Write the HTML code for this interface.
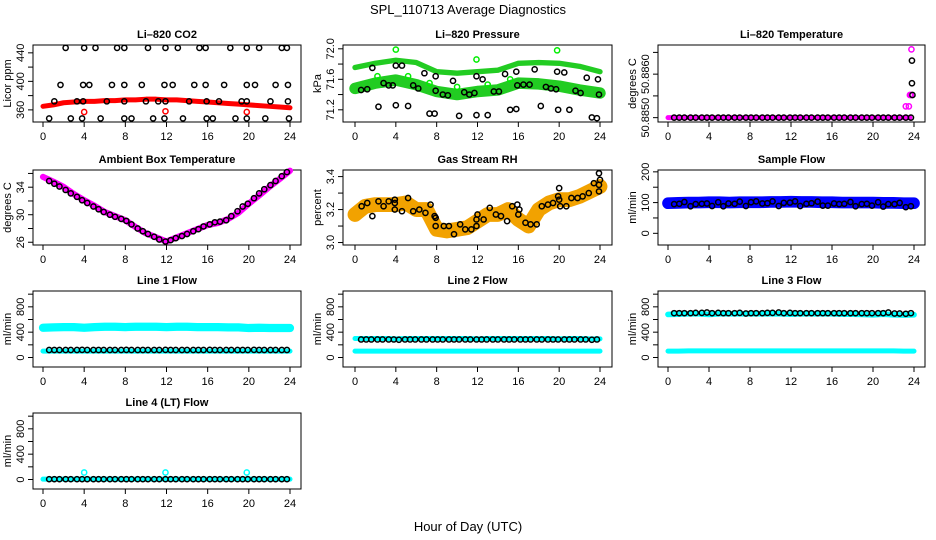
<!DOCTYPE html>
<html><head><meta charset="utf-8"><style>
html,body{margin:0;padding:0;background:#fff;}
svg{display:block;font-family:"Liberation Sans",sans-serif;}
</style></head><body>
<svg id="chart" width="936" height="540" viewBox="0 0 936 540" xmlns="http://www.w3.org/2000/svg">
<rect width="936" height="540" fill="#fff"/>
<text x="468" y="14" font-size="13" text-anchor="middle">SPL_110713  Average Diagnostics</text>
<text x="468" y="531" font-size="13" text-anchor="middle">Hour of Day (UTC)</text>
</svg>
<script>
const bandHours=[0,1,2,3,4,5,6,7,8,9,10,11,12,13,14,15,16,17,18,19,20,21,22,23,24];
const bandHours2=[0,2,4,6,8,10,12,14,16,18,20,22,24];
const blackHours=[0.6,1.1,1.6,2.2,2.7,3.3,3.8,4.3,4.9,5.4,5.9,6.5,7.0,7.6,8.1,8.6,9.2,9.7,10.2,10.8,11.3,11.9,12.4,12.9,13.5,14.0,14.6,15.1,15.6,16.2,16.7,17.2,17.8,18.3,18.9,19.4,19.9,20.5,21.0,21.5,22.1,22.6,23.2,23.7];
const xTicks=[0,4,8,12,16,20,24];
// CO2
const co2Band=[365,367,370,371,372,372,373,373,374,374,375,375,374,374,373,372,371,370,369,368,367,366,365,364,363];
const co2Hours=[2.2,4.0,5.1,7.2,7.9,10.2,11.9,13.1,15.2,15.8,18.2,19.8,21.0,23.2,23.7,1.7,3.9,4.5,6.7,7.9,9.6,11.8,12.6,14.7,15.8,17.6,19.8,20.6,22.6,23.8,1.1,3.3,3.9,6.2,7.9,10.0,11.2,11.9,14.2,15.9,17.1,19.3,19.8,22.1,23.8,0.6,2.7,3.8,5.6,7.9,8.6,10.7,11.8,13.6,15.9,16.5,18.7,19.8,21.6,23.9];
const co2Vals=[447,447,447,447,447,447,447,447,447,447,447,447,447,447,447,395,395,395,395,395,395,395,395,395,395,395,395,395,395,395,372,372,372,372,372,372,372,372,372,372,372,372,372,372,372,348,348,348,348,348,348,348,348,348,348,348,348,348,348,348];
const co2OutHours=[4.0,11.9,19.8];
const co2OutVals=[357,358,357];
// Pressure
const presUpper=[71.755,71.81,71.85,71.82,71.70,71.68,71.70,71.72,71.81,71.82,71.81,71.77,71.70];
const presLower=[71.48,71.55,71.59,71.53,71.44,71.40,71.44,71.46,71.55,71.54,71.51,71.46,71.42];
const presHours=[0.6,1.2,1.7,2.3,2.8,3.3,3.7,4.0,4.0,4.6,5.2,5.7,6.2,6.8,7.3,7.8,7.9,7.9,8.6,9.1,9.6,10.2,10.7,11.2,11.7,11.9,11.9,12.5,13.0,13.6,14.1,14.7,15.2,15.8,15.8,15.9,16.5,17.1,17.6,18.2,18.7,19.2,19.7,19.8,19.9,20.5,21.0,21.6,22.1,22.7,23.2,23.7,23.8,23.9];
const presVals=[71.46,71.47,71.75,71.24,71.55,71.52,71.52,71.78,71.26,71.78,71.25,71.52,71.48,71.68,71.15,71.15,71.64,71.45,71.40,71.39,71.58,71.12,71.43,71.40,71.42,71.64,71.13,71.60,71.13,71.44,71.44,71.67,71.20,71.21,71.70,71.52,71.53,71.53,71.73,71.25,71.50,71.48,71.47,71.70,71.20,71.69,71.20,71.45,71.42,71.62,71.10,71.09,71.60,71.40];
const presOutHours=[4.0,11.9,19.8,15.2,7.3,10.0,13.0,2.2,5.2];
const presOutVals=[71.99,71.86,71.98,71.60,71.55,71.50,71.53,71.64,71.64];
// Li-820 temperature
const tempBandHours=[0,23.6];
const tempBand=[50.885,50.885];
const tempOutHours=[23.2,23.5,23.6,23.7,23.75];
const tempOutVals=[50.88526,50.88526,50.88552,50.88552,50.88657];
const tempBlackVals=[50.885,50.885,50.885,50.885,50.885,50.885,50.885,50.885,50.885,50.885,50.885,50.885,50.885,50.885,50.885,50.885,50.885,50.885,50.885,50.885,50.885,50.885,50.885,50.885,50.885,50.885,50.885,50.885,50.885,50.885,50.885,50.885,50.885,50.885,50.885,50.885,50.885,50.885,50.885,50.885,50.885,50.885,50.885,50.885];
const tempExtraHours=[23.8,23.8,23.85];
const tempExtraVals=[50.88631,50.88579,50.88552];
// Ambient
const ambBand=[35.5,34.8,34.05,33.0,32.1,31.3,30.4,29.8,29.2,28.2,27.3,26.7,26.1,26.7,27.3,27.9,28.5,28.8,29.4,30.3,31.6,32.8,34.05,35.2,36.4];
const ambBlack=[34.9,34.5,34.1,33.6,33.1,32.6,32.1,31.7,31.2,30.8,30.4,30.0,29.7,29.4,29.1,28.6,28.0,27.6,27.2,26.8,26.4,26.1,26.3,26.6,26.9,27.2,27.6,27.9,28.3,28.6,28.9,29.0,29.2,29.8,30.5,31.2,31.6,32.4,33.1,33.7,34.3,34.9,35.6,36.2];
// RH
const rhBand=[3.17,3.22,3.23,3.23,3.23,3.24,3.20,3.20,3.08,3.07,3.08,3.09,3.13,3.17,3.17,3.20,3.14,3.10,3.20,3.24,3.26,3.26,3.28,3.31,3.34];
const rhHours=[0.65,1.2,1.7,2.3,2.8,3.3,3.9,3.9,3.9,4.6,5.2,5.7,6.3,6.9,7.4,7.8,7.9,7.9,8.7,9.2,9.7,10.3,10.8,11.4,11.9,11.9,12.0,12.6,13.2,13.8,14.3,14.9,15.4,15.9,16.0,16.1,16.7,17.2,17.8,18.3,18.9,19.4,19.9,20.0,20.0,20.1,20.7,21.2,21.8,22.3,22.9,23.4,23.9,24.0,23.9,23.9];
const rhVals=[3.22,3.24,3.16,3.25,3.22,3.25,3.26,3.24,3.20,3.19,3.27,3.19,3.20,3.18,3.23,3.16,3.15,3.10,3.10,3.10,3.05,3.11,3.08,3.08,3.10,3.14,3.17,3.14,3.21,3.17,3.16,3.13,3.22,3.23,3.17,3.20,3.12,3.11,3.11,3.22,3.23,3.24,3.28,3.26,3.33,3.22,3.22,3.27,3.27,3.28,3.30,3.36,3.42,3.38,3.35,3.31];
// Sample flow
const sfBand=[98,99,100,100,101,101,100,101,101,101,102,102,103,102,102,101,101,100,100,100,100,99,99,98,98];
const sfBlack=[95,96,102,88,95,96,97,89,101,88,97,96,103,89,101,104,97,98,104,89,99,100,104,89,96,98,103,90,90,97,95,96,102,88,95,96,90,101,87,95,95,99,85,88];
// Line 1
const l1Band=[470,475,480,480,470,480,485,485,480,485,485,485,480,485,485,480,480,480,475,475,465,470,465,465,465];
const l1Low=[100,100,100,100,100,100,100,100,100,100,100,100,100,100,100,100,100,100,100,100,100,100,100,100,100];
const l1Black=[118,118,118,118,118,118,120,118,118,118,118,118,118,118,120,118,118,118,118,118,118,120,118,118,118,118,118,118,118,120,118,118,118,118,118,118,118,120,118,118,118,118,118,118];
// Line 2
const l2Band=[300,300,300,300,295,300,300,300,300,300,300,300,295,300,300,300,300,300,300,300,295,300,300,295,295];
const l2Low=[100,100,100,100,100,100,100,100,100,100,100,100,100,100,100,100,100,100,100,100,100,100,100,100,100];
const l2Black=[285,285,285,285,285,285,285,280,285,285,285,285,285,285,285,285,285,285,285,285,285,285,285,285,285,285,285,285,285,285,285,285,285,285,285,285,285,285,285,285,285,285,280,285];
// Line 3
const l3Band=[680,685,690,690,680,690,690,690,690,690,690,690,685,690,690,690,690,685,685,680,675,685,675,670,675];
const l3Low=[100,100,105,105,105,105,105,105,105,105,105,105,105,105,105,105,105,105,105,105,105,105,105,100,100];
const l3Black=[700,700,700,700,705,705,710,700,705,700,700,700,705,695,700,700,700,705,705,710,700,705,700,700,700,700,700,700,700,700,700,700,700,700,700,700,700,700,700,710,695,695,690,700];
// Line 4
const l4Band=[5,5,5,5,5,5,5,5,5,5,5,5,5,5,5,5,5,5,5,5,5,5,5,5,5];
const l4Black=[5,5,5,5,5,5,5,5,5,5,5,5,5,5,5,5,5,5,5,5,5,5,5,5,5,5,5,5,5,5,5,5,5,5,5,5,5,5,5,5,5,5,5,5];
const l4OutHours=[4.0,11.9,19.8];
const l4OutVals=[110,110,110];

const svg=document.getElementById('chart');
const NS='http://www.w3.org/2000/svg';
function mk(tag,attrs,parent){const e=document.createElementNS(NS,tag);for(const k in attrs)e.setAttribute(k,attrs[k]);(parent||svg).appendChild(e);return e;}
const cols=[{bx0:33,bx1:301,h0:43,h24:290},{bx0:343,bx1:612,h0:355,h24:600},{bx0:658,bx1:925,h0:668,h24:914}];
const rows=[{by0:45,by1:122},{by0:170,by1:245},{by0:291,by1:367},{by0:413,by1:489}];
function panel(name,title,ylab,c,r,vmin,vmax,ticks,labels,decimals){
  const C=cols[c],R=rows[r];
  const g=mk('g',{});
  
  
  const p={g,C,R,vmin,vmax};
  p.x=h=>C.h0+h*(C.h24-C.h0)/24;
  p.y=v=>R.by1-(v-vmin)*(R.by1-R.by0)/(vmax-vmin);
  const t=mk('text',{x:(C.bx0+C.bx1)/2,y:R.by0-7,'font-size':11,'font-weight':'bold','text-anchor':'middle'},g);t.textContent=title;
  
  
  const yl=mk('text',{transform:`translate(${C.bx0-22},${(R.by0+R.by1)/2}) rotate(-90)`,'font-size':11,'text-anchor':'middle'},g);yl.textContent=ylab;
  
  
  // x axis
  const xa=mk('g',{},g);
  
  
  mk('line',{x1:p.x(0),x2:p.x(24),y1:R.by1,y2:R.by1,stroke:'#000'},xa);
  xTicks.forEach(h=>{mk('line',{x1:p.x(h),x2:p.x(h),y1:R.by1,y2:R.by1+5,stroke:'#000'},xa);
    const tl=mk('text',{x:p.x(h),y:R.by1+18,'font-size':11,'text-anchor':'middle'},xa);tl.textContent=h;});
  const ya=mk('g',{},g);
  
  
  mk('line',{x1:C.bx0,x2:C.bx0,y1:p.y(ticks[0]),y2:p.y(ticks[ticks.length-1]),stroke:'#000'},ya);
  ticks.forEach(v=>mk('line',{x1:C.bx0-5,x2:C.bx0,y1:p.y(v),y2:p.y(v),stroke:'#000'},ya));
  labels.forEach(v=>{const tl=mk('text',{transform:`translate(${C.bx0-9},${p.y(v)}) rotate(-90)`,'font-size':11,'text-anchor':'middle'},ya);tl.textContent=v.toFixed(decimals);});
  mk('rect',{x:C.bx0,y:R.by0,width:C.bx1-C.bx0,height:R.by1-R.by0,fill:'none',stroke:'#000'},g);
  const clip=mk('clipPath',{id:'clip'+name},g);mk('rect',{x:C.bx0,y:R.by0-4,width:C.bx1-C.bx0,height:R.by1-R.by0+4},clip);
  p.plot=mk('g',{'clip-path':`url(#clip${name})`},g);
  return p;
}
function band(p,hours,vals,color,widthData,nm){
  const pts=hours.map((h,i)=>p.x(h)+','+p.y(vals[i])).join(' ');
  const w=Math.abs(p.y(0)-p.y(widthData));
  const e=mk('polyline',{points:pts,fill:'none',stroke:color,'stroke-width':Math.max(w,5),'stroke-linejoin':'round','stroke-linecap':'round'},p.plot);
  
  
  return e;
}
function pts(p,hours,vals,color,nm){
  const g=mk('g',{},p.plot);
  
  
  hours.forEach((h,i)=>{const c=mk('circle',{cx:p.x(h),cy:p.y(vals[i]),r:2.6,fill:'none',stroke:color,'stroke-width':1.5},g);
    
    });
}
// panels
let p;
p=panel('co2-panel','Li\u2013820 CO2','Licor ppm',0,0,343,451,[360,380,400,420,440],[360,400,440],0);
band(p,bandHours,co2Band,'#ff0000',7,'co2-band');pts(p,co2OutHours,co2OutVals,'#ff0000','co2-outliers');pts(p,co2Hours,co2Vals,'#000','co2-points');
p=panel('pressure-panel','Li\u2013820 Pressure','kPa',1,0,71.04,72.05,[71.2,71.4,71.6,71.8,72.0],[71.2,71.6,72.0],1);
band(p,bandHours2,presUpper,'#22cc22',0.07,'pressure-upper-band');band(p,bandHours2,presLower,'#22cc22',0.15,'pressure-lower-band');
pts(p,presOutHours,presOutVals,'#00ee00','pressure-outliers');pts(p,presHours,presVals,'#000','pressure-points');
p=panel('temperature-panel','Li\u2013820 Temperature','degrees C',2,0,50.88490,50.88667,[50.885,50.8855,50.886,50.8865],[50.885,50.886],4);
band(p,tempBandHours,tempBand,'#ff00ff',0.00003,'temperature-band');pts(p,blackHours,tempBlackVals,'#000','temperature-points');
pts(p,tempOutHours,tempOutVals,'#ff00ff','temperature-outliers');pts(p,tempExtraHours,tempExtraVals,'#000','temperature-extra-points');
p=panel('ambient-panel','Ambient Box Temperature','degrees C',0,1,25.6,36.5,[26,28,30,32,34,36],[26,30,34],0);
band(p,bandHours,ambBand,'#ff00ff',0.9,'ambient-band');pts(p,blackHours,ambBlack,'#000','ambient-points');
p=panel('rh-panel','Gas Stream RH','percent',1,1,2.985,3.44,[3.0,3.1,3.2,3.3,3.4],[3.0,3.2,3.4],1);
band(p,bandHours,rhBand,'#f2a200',0.09,'rh-band');pts(p,rhHours,rhVals,'#000','rh-points');
p=panel('sample-flow-panel','Sample Flow','ml/min',2,1,-38,206,[0,50,100,150,200],[0,100,200],0);
band(p,bandHours,sfBand,'#0000ff',38,'sample-flow-band');pts(p,blackHours,sfBlack,'#000','sample-flow-points');
p=panel('line1-panel','Line 1 Flow','ml/min',0,2,-150,1050,[0,200,400,600,800,1000],[0,400,800],0);
band(p,bandHours,l1Band,'#00ffff',130,'line1-band');band(p,bandHours,l1Low,'#00ffff',50,'line1-low-band');pts(p,blackHours,l1Black,'#000','line1-points');
p=panel('line2-panel','Line 2 Flow','ml/min',1,2,-150,1050,[0,200,400,600,800,1000],[0,400,800],0);
band(p,bandHours,l2Low,'#00ffff',70,'line2-low-band');band(p,bandHours,l2Band,'#00ffff',60,'line2-band');pts(p,blackHours,l2Black,'#000','line2-points');
p=panel('line3-panel','Line 3 Flow','ml/min',2,2,-150,1050,[0,200,400,600,800,1000],[0,400,800],0);
band(p,bandHours,l3Band,'#00ffff',90,'line3-band');band(p,bandHours,l3Low,'#00ffff',70,'line3-low-band');pts(p,blackHours,l3Black,'#000','line3-points');
p=panel('line4-panel','Line 4 (LT) Flow','ml/min',0,3,-150,1050,[0,200,400,600,800,1000],[0,400,800],0);
band(p,bandHours,l4Band,'#00ffff',50,'line4-band');pts(p,l4OutHours,l4OutVals,'#00ffff','line4-outliers');pts(p,blackHours,l4Black,'#000','line4-points');
</script>
</body></html>
